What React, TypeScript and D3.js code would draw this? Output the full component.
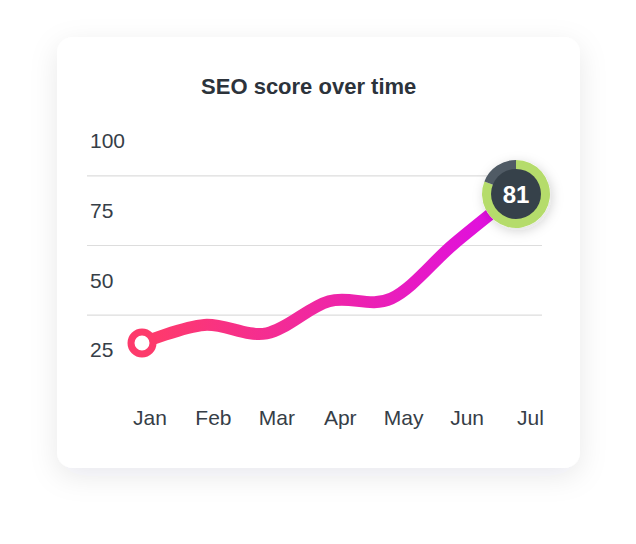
import { useEffect, useRef } from 'react';
import * as d3 from 'd3';

const months = ['Jan', 'Feb', 'Mar', 'Apr', 'May', 'Jun', 'Jul'];
const scores = [27.5, 34, 31, 42.5, 43.5, 63, 81];
const yTicks = [25, 50, 75, 100];
const gridValues = [37.5, 62.5, 87.5];
const title = 'SEO score over time';
const currentScore = 81;

const width = 636;
const height = 544;
const card = { x: 57, y: 37, width: 523, height: 431, radius: 16 };
const font = '"Liberation Sans", Arial, Helvetica, sans-serif';

const App = () => {
    const svgRef = useRef<SVGSVGElement>(null);

    useEffect(() => {
        const svg = d3.select(svgRef.current);
        svg.selectAll('*').remove();

        const x = d3.scalePoint().domain(months).range([142, 516]);
        const xLabel = d3.scalePoint().domain(months).range([150, 530.5]);
        const y = d3.scaleLinear().domain([25, 100]).range([350, 141]);

        const defs = svg.append('defs');

        const cardShadow = defs
            .append('filter')
            .attr('id', 'card-shadow')
            .attr('x', '-20%')
            .attr('y', '-20%')
            .attr('width', '140%')
            .attr('height', '150%');
        cardShadow
            .append('feDropShadow')
            .attr('dx', 0)
            .attr('dy', 8)
            .attr('stdDeviation', 14)
            .attr('flood-color', '#1c2733')
            .attr('flood-opacity', 0.09);

        const dotShadow = defs
            .append('filter')
            .attr('id', 'dot-shadow')
            .attr('x', '-50%')
            .attr('y', '-50%')
            .attr('width', '200%')
            .attr('height', '200%');
        dotShadow
            .append('feDropShadow')
            .attr('dx', 2)
            .attr('dy', 3)
            .attr('stdDeviation', 6)
            .attr('flood-color', '#1c2733')
            .attr('flood-opacity', 0.18);

        const grad = defs
            .append('linearGradient')
            .attr('id', 'line-grad')
            .attr('gradientUnits', 'userSpaceOnUse')
            .attr('x1', x(months[0]) ?? 0)
            .attr('x2', x(months[months.length - 1]) ?? 0)
            .attr('y1', 0)
            .attr('y2', 0);
        grad.append('stop').attr('offset', '0%').attr('stop-color', '#ff3b68');
        grad.append('stop').attr('offset', '50%').attr('stop-color', '#ef26a6');
        grad.append('stop').attr('offset', '100%').attr('stop-color', '#dd0ce8');

        // Card
        svg.append('rect')
            .attr('x', card.x)
            .attr('y', card.y)
            .attr('width', card.width)
            .attr('height', card.height)
            .attr('rx', card.radius)
            .attr('fill', '#ffffff')
            .attr('filter', 'url(#card-shadow)');

        // Title
        svg.append('text')
            .attr('x', 308.7)
            .attr('y', 94)
            .attr('text-anchor', 'middle')
            .style('font-family', font)
            .style('font-size', '22px')
            .style('font-weight', 'bold')
            .attr('fill', '#2c333b')
            .text(title);

        // Gridlines
        svg.append('g')
            .selectAll('line')
            .data(gridValues)
            .join('line')
            .attr('x1', 87)
            .attr('x2', 542)
            .attr('y1', d => y(d))
            .attr('y2', d => y(d))
            .attr('stroke', '#dddddd')
            .attr('stroke-width', 1.2);

        // Y labels
        svg.append('g')
            .selectAll('text')
            .data(yTicks)
            .join('text')
            .attr('x', 90)
            .attr('y', d => y(d))
            .attr('dy', '0.35em')
            .style('font-family', font)
            .style('font-size', '21px')
            .attr('fill', '#363e47')
            .text(d => d);

        // X labels
        svg.append('g')
            .selectAll('text')
            .data(months)
            .join('text')
            .attr('x', d => xLabel(d) ?? 0)
            .attr('y', 425)
            .attr('text-anchor', 'middle')
            .style('font-family', font)
            .style('font-size', '21px')
            .attr('fill', '#363e47')
            .text(d => d);

        // Score line
        const line = d3
            .line<number>()
            .x((_, i) => x(months[i]) ?? 0)
            .y(d => y(d))
            .curve(d3.curveCardinal.tension(0));

        svg.append('path')
            .datum(scores)
            .attr('d', line)
            .attr('fill', 'none')
            .attr('stroke', 'url(#line-grad)')
            .attr('stroke-width', 12)
            .attr('stroke-linecap', 'round');

        // Start marker
        svg.append('circle')
            .attr('cx', x(months[0]) ?? 0)
            .attr('cy', y(scores[0]))
            .attr('r', 11)
            .attr('fill', '#ffffff')
            .attr('stroke', '#fd3a6b')
            .attr('stroke-width', 7);

        // End marker with score ring
        const last = scores.length - 1;
        const badge = svg
            .append('g')
            .attr('transform', `translate(${x(months[last])},${y(scores[last])})`);

        badge.append('circle').attr('r', 34).attr('fill', '#ffffff').attr('filter', 'url(#dot-shadow)');

        const pie = d3.pie<number>().sort(null)([currentScore, 100 - currentScore]);
        const arc = d3.arc<d3.PieArcDatum<number>>().innerRadius(24).outerRadius(34);
        badge.selectAll('path')
            .data(pie)
            .join('path')
            .attr('d', arc)
            .attr('fill', (_, i) => (i === 0 ? '#b5dc6b' : '#505b65'));

        badge.append('circle').attr('r', 25).attr('fill', '#36414a');

        badge.append('text')
            .attr('text-anchor', 'middle')
            .attr('dy', '0.36em')
            .style('font-family', font)
            .style('font-size', '24px')
            .style('font-weight', 'bold')
            .attr('fill', '#ffffff')
            .text(currentScore);
    }, []);

    return (
        <div style={{ position: 'absolute', left: 0, top: 0 }}>
            <svg ref={svgRef} width={width} height={height} style={{ display: 'block' }}></svg>
        </div>
    );
};

export default App;
